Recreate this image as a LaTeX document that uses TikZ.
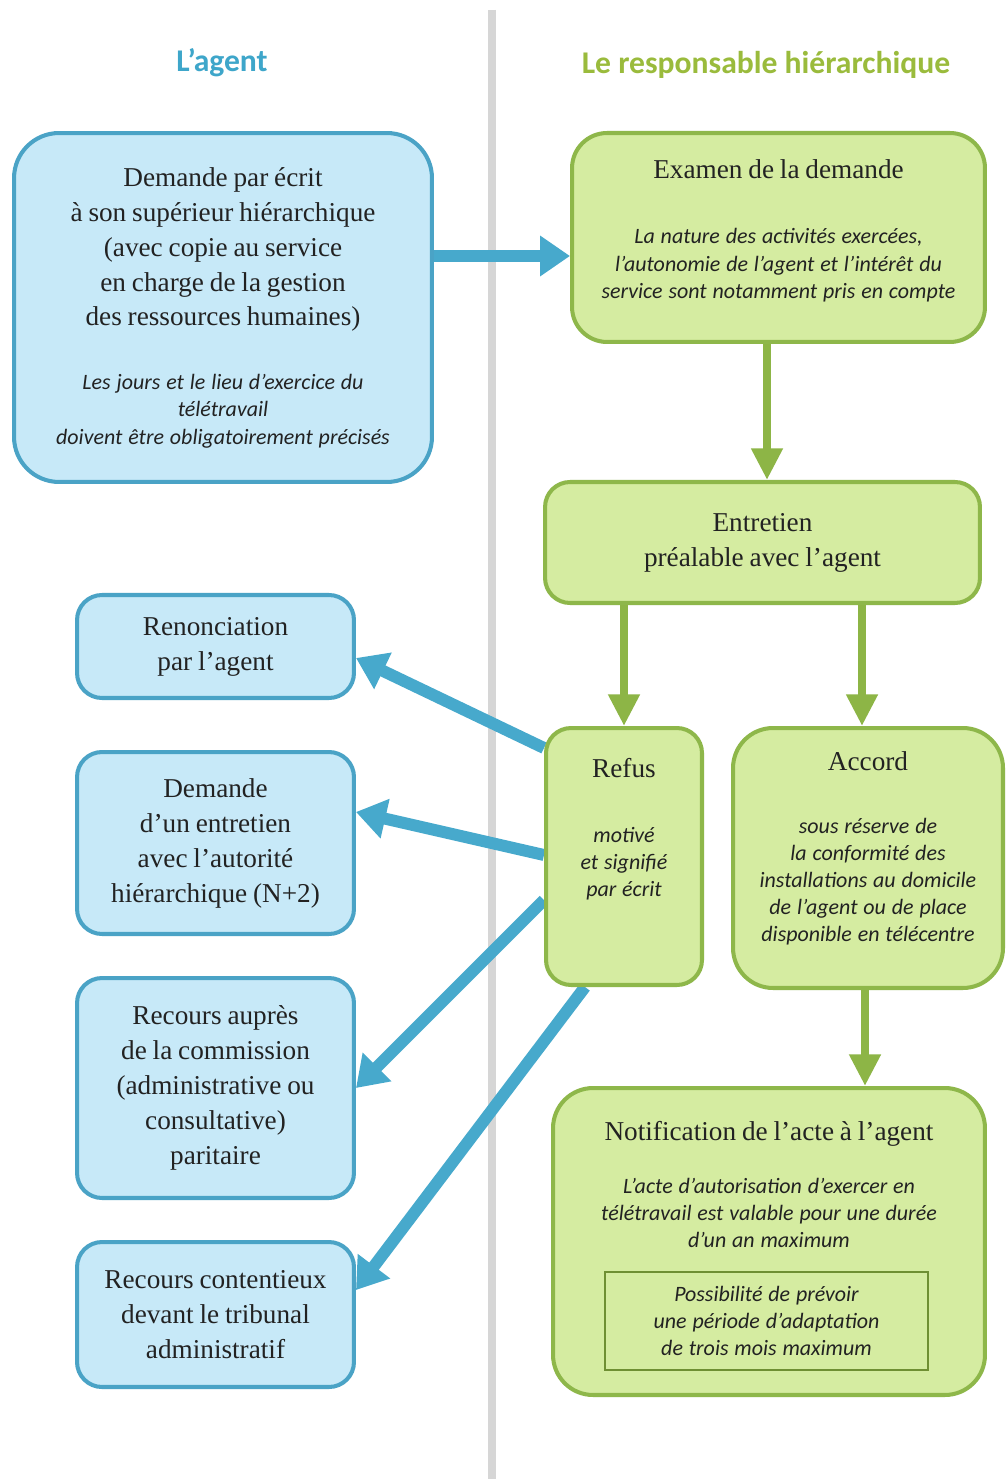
\documentclass[tikz,border=0pt]{standalone}
\usepackage{fontspec}
\setmainfont{Liberation Serif}
\newfontfamily\calfont{Carlito}
\usetikzlibrary{arrows.meta,calc}
\definecolor{bfill}{HTML}{C7E9F8}
\definecolor{bdraw}{HTML}{4AA3C6}
\definecolor{gfill}{HTML}{D5ECA1}
\definecolor{gdraw}{HTML}{8EB74A}
\definecolor{barr}{HTML}{47A9CC}
\definecolor{garr}{HTML}{8DB546}
\definecolor{hblue}{HTML}{3EA6CA}
\definecolor{hgreen}{HTML}{9ABB3C}
\definecolor{txt}{HTML}{222222}
\definecolor{sepcol}{HTML}{D6D6D6}
\definecolor{inbord}{HTML}{6F8F33}
\newcommand\R{\fontsize{15.5}{19.9}\selectfont}
\newcommand\I{\calfont\itshape\fontsize{12.5}{15.4}\selectfont}
\pgfdeclarelayer{bg}
\pgfsetlayers{bg,main}
\begin{document}
\begin{tikzpicture}[x=0.02cm,y=-0.02cm,
 box/.style={rounded corners=#1, line width=2.3pt, align=center, text=txt, inner sep=0pt},
 bluebox/.style={box=#1, draw=bdraw, fill=bfill},
 greenbox/.style={box=#1, draw=gdraw, fill=gfill},
 barrow/.style={draw=barr, line width=6.8pt, -{Triangle[length=17pt,width=22pt]}},
 garrow/.style={draw=garr, line width=4.5pt, -{Triangle[length=18pt,width=17pt]}},
 hdr/.style={font=\calfont\bfseries\fontsize{18}{22}\selectfont, inner sep=0pt}]
\useasboundingbox (0,0) rectangle (1006,1479);

\node[hdr, text=hblue] (h1) at (222,63) {L’agent};
\node[hdr, text=hgreen] (h2) at (766,65) {Le responsable hiérarchique};

\node[bluebox=0.9cm, minimum width=8.36cm, minimum height=6.98cm, text width=8cm] (dem) at (223,307.5)
 {\R Demande par écrit\\ à son supérieur hiérarchique\\ (avec copie au service\\ en charge de la gestion\\ des ressources humaines)\par
  \vspace{21pt}
  \I Les jours et le lieu d’exercice du\\ télétravail\\ doivent être obligatoirement précisés\par};

\node[greenbox=0.7cm, minimum width=8.26cm, minimum height=4.18cm, text width=8cm] (exa) at (778.5,237.5)
 {\R Examen de la demande\par\vspace{22pt}
  \I La nature des activités exercées,\\ l’autonomie de l’agent et l’intérêt du\\ service sont notamment pris en compte\par\vspace{8pt}};

\node[greenbox=0.5cm, minimum width=8.7cm, minimum height=2.42cm, text width=8.4cm] (ent) at (762.5,542.5)
 {\R Entretien\\ préalable avec l’agent\par};

\node[greenbox=0.5cm, minimum width=3.12cm, minimum height=5.14cm, text width=3cm] (ref) at (624,856.5)
 {\R Refus\par\vspace{21.6pt}
  \I motivé\\ et signifié\\ par écrit\par\vspace{31pt}};

\node[greenbox=0.8cm, minimum width=5.4cm, minimum height=5.2cm, text width=5.3cm] (acc) at (868,858)
 {\R Accord\par\vspace{20pt}
  \I sous réserve de\\ la conformité des\\ installations au domicile\\ de l’agent ou de place\\ disponible en télécentre\par\vspace{11pt}};

\node[greenbox=0.8cm, minimum width=8.64cm, minimum height=6.14cm, text width=8.4cm] (notif) at (769,1241.5)
 {\R Notification de l’acte à l’agent\par\vspace{15pt}
  \I L’acte d’autorisation d’exercer en\\ télétravail est valable pour une durée\\ d’un an maximum\par\vspace{65pt}};

\node[draw=inbord, line width=1.5pt, minimum width=6.46cm, minimum height=1.96cm, text width=6.2cm, align=center, inner sep=0pt, text=txt] (poss) at (766.5,1321)
 {\I Possibilité de prévoir\\ une période d’adaptation\\ de trois mois maximum\par};

\node[bluebox=0.5cm, minimum width=5.54cm, minimum height=2.06cm, text width=5.3cm] (ren) at (215.5,646.5)
 {\R Renonciation\\ par l’agent\par};
\node[bluebox=0.5cm, minimum width=5.54cm, minimum height=3.64cm, text width=5.3cm] (dement) at (215.5,843)
 {\R Demande\\ d’un entretien\\ avec l’autorité\\ hiérarchique (N+2)\par};
\node[bluebox=0.5cm, minimum width=5.54cm, minimum height=4.4cm, text width=5.3cm] (recom) at (215.5,1088)
 {\R Recours auprès\\ de la commission\\ (administrative ou\\ consultative)\\ paritaire\par};
\node[bluebox=0.5cm, minimum width=5.54cm, minimum height=2.9cm, text width=5.3cm] (recon) at (215.5,1314.5)
 {\R Recours contentieux\\ devant le tribunal\\ administratif\par};

\begin{pgfonlayer}{bg}
\fill[white] (0,0) rectangle (1006,1479);
\coordinate (septop) at (492,10);
\coordinate (sepbot) at (492,1479);
\draw[sepcol, line width=4.5pt] (septop) -- (sepbot);
\draw[barrow] (dem.east |- 0,256) -- (exa.west |- 0,256);
\draw[garrow] (exa.south -| 767,0) -- (ent.north -| 767,0);
\draw[garrow] (ent.south -| ref.north) -- (ref.north);
\draw[garrow] (ent.south -| 862,0) -- (acc.north -| 862,0);
\draw[garrow] (acc.south -| 865,0) -- (notif.north -| 865,0);
\draw[barrow] (ref.west |- 0,748) -- (ren.east |- 0,658);
\draw[barrow] (ref.west |- 0,855) -- (dement.east |- 0,812);
\draw[barrow] (ref.west |- 0,900) -- (recom.east |- 0,1088);
\draw[barrow] (ref.south -| 585,0) -- (recon.east |- 0,1290);
\end{pgfonlayer}
\end{tikzpicture}
\end{document}
